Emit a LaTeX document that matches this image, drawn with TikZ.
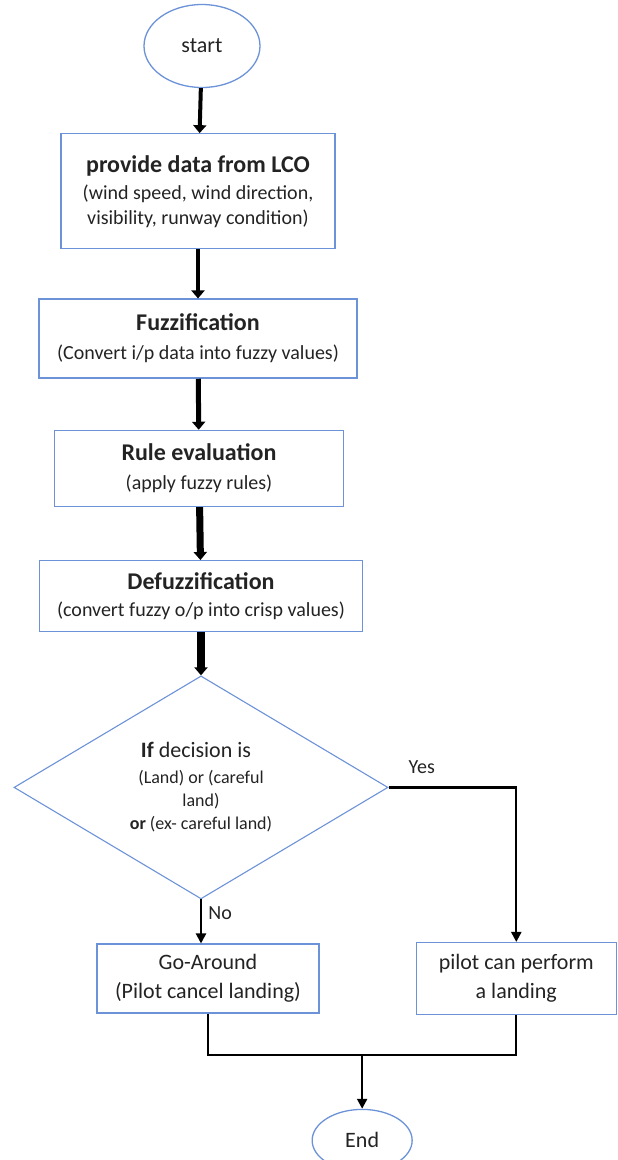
\documentclass[tikz,border=0pt]{standalone}
\usepackage{fontspec}
\setmainfont{Carlito}
\definecolor{blue1}{RGB}{108,146,216}
\definecolor{ink1}{RGB}{35,35,35}
\usepackage{tikz}
\usetikzlibrary{shapes, shapes.geometric, arrows.meta, positioning, calc}

\tikzset{
  terminal/.style={draw=blue1, ellipse, line width=1.3pt, text=ink1, font=\fontsize{22}{26}\selectfont},
  stepbox/.style={draw=blue1, line width=1.3pt, align=center, inner sep=0pt, text=ink1, font=\fontsize{20}{25}\selectfont},
  decision/.style={draw=blue1, diamond, aspect=1.7, line width=1.1pt, minimum width=374pt, minimum height=223pt, align=center, inner sep=0pt, text=ink1, font=\fontsize{18}{23}\selectfont},
  flow/.style={-{Triangle[length=8pt, width=13pt]}},
  branch/.style={line width=2.2pt, -{Triangle[length=10pt, width=10pt]}},
}

\begin{document}
\begin{tikzpicture}
  \useasboundingbox (0,0) rectangle (618pt,-1160pt);

  % main chain
  \node[terminal, minimum width=116pt, minimum height=83pt] (start) at (202pt,-46pt) {start};
  \node[stepbox, minimum width=274pt, minimum height=115pt, below=45pt of start, xshift=-4pt] (lco) {
    {\fontsize{24}{28}\selectfont\bfseries provide data from LCO}\\[2pt]
    (wind speed, wind direction,\\
    visibility, runway condition)
  };
  \node[stepbox, minimum width=318pt, minimum height=79pt, below=49pt of lco] (fuzz) {
    {\fontsize{24}{28}\selectfont\bfseries Fuzzification}\\[4pt]
    (Convert i/p data into fuzzy values)
  };
  \node[stepbox, minimum width=289pt, minimum height=76pt, below=51pt of fuzz, xshift=1pt] (rule) {
    {\fontsize{24}{28}\selectfont\bfseries Rule evaluation}\\[4pt]
    (apply fuzzy rules)
  };
  \node[stepbox, minimum width=323pt, minimum height=71pt, below=53pt of rule, xshift=2pt] (defuzz) {
    {\fontsize{24}{28}\selectfont\bfseries Defuzzification}\\[2pt]
    (convert fuzzy o/p into crisp values)
  };
  \node[decision, below=43pt of defuzz] (choice) {
    {\fontsize{22}{26}\selectfont\textbf{If} decision is\hspace*{10pt}}\\[3pt]
    (Land) or (careful\\
    land)\\
    \textbf{or} (ex- careful land)
  };

  % outcomes
  \node[stepbox, font=\fontsize{22}{29}\selectfont, minimum width=222pt, minimum height=69pt, below=44pt of choice, xshift=7pt] (goaround) {
    Go-Around\\(Pilot cancel landing)
  };
  \node[stepbox, font=\fontsize{22}{29}\selectfont, minimum width=200pt, minimum height=72pt, right=96pt of goaround] (landing) {
    pilot can perform\\a landing
  };

  \coordinate[below=41pt of goaround.south] (joinL);
  \coordinate (joinM) at ($(joinL)!0.5!(joinL -| landing.south)$);
  \node[terminal, minimum width=100pt, minimum height=62pt, below=54pt of joinM] (finish) {End};

  % arrows
  \draw[flow, line width=4pt] (start) -- (lco);
  \draw[flow, line width=4pt] (lco) -- (fuzz);
  \draw[flow, line width=5pt] (fuzz) -- (rule);
  \draw[flow, line width=7pt] (rule) -- (defuzz);
  \draw[flow, line width=8pt] (defuzz) -- (choice);

  \draw[branch] (choice.south) -- (choice.south |- goaround.north)
    node[pos=0.3, right=3pt, text=ink1, font=\fontsize{20}{24}\selectfont] {No};
  \draw[branch] (choice.east) -| (landing.north)
    node[pos=0.13, above=9pt, text=ink1, font=\fontsize{20}{24}\selectfont] {Yes};

  \draw[line width=2.2pt] (goaround.south) -- (joinL) -| (landing.south);
  \draw[branch] (joinM) -- (finish);
\end{tikzpicture}
\end{document}
